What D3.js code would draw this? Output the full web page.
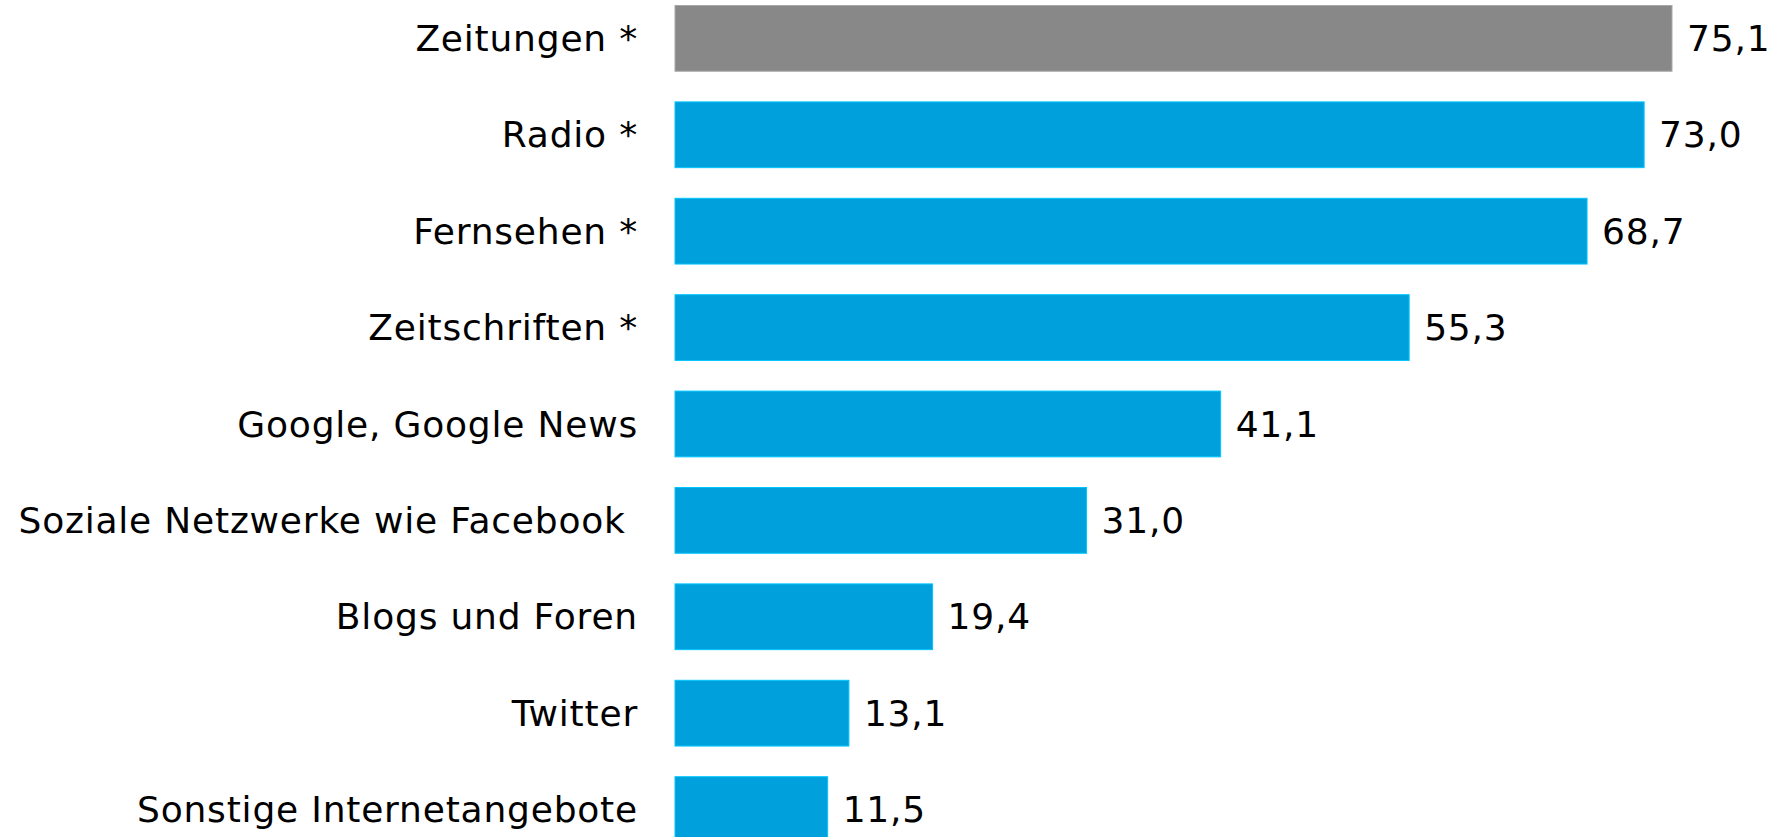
<!DOCTYPE html>
<html>
<head>
<meta charset="utf-8">
<script src="https://cdn.jsdelivr.net/npm/d3@7"></script>
<style>
  body { margin: 0; background: #fff; overflow: hidden; }
  text { font-family: "DejaVu Sans", Verdana, sans-serif; fill: #000; }
</style>
</head>
<body>
<div id="chartDiv"></div>
<script>
// data
var categories = ["Zeitungen *", "Radio *", "Fernsehen *", "Zeitschriften *",
  "Google, Google News", "Soziale Netzwerke wie Facebook ", "Blogs und Foren",
  "Twitter", "Sonstige Internetangebote"];
var values = [75.1, 73.0, 68.7, 55.3, 41.1, 31.0, 19.4, 13.1, 11.5];
var barColors = ["#888888", "#00A0DC", "#00A0DC", "#00A0DC", "#00A0DC",
  "#00A0DC", "#00A0DC", "#00A0DC", "#00A0DC"];

var width = 1778, height = 837;
var left = 675, step = 96.4, pad = 0.318;

var formatValue = function (v) { return d3.format(".1f")(v).replace(".", ","); };

var x = d3.scaleLinear()
  .domain([0, 75.1])
  .range([left, 1672]);

var y = d3.scaleBand()
  .domain(categories)
  .range([5.5, 5.5 + step * (categories.length - pad)])
  .paddingInner(pad)
  .paddingOuter(0);

var svg = d3.select("#chartDiv").append("svg")
  .attr("width", width)
  .attr("height", height);

// bars
svg.append("g").selectAll("rect")
  .data(values)
  .enter().append("rect")
  .attr("x", x(0))
  .attr("y", function (d, i) { return y(categories[i]); })
  .attr("width", function (d) { return x(d) - x(0); })
  .attr("height", y.bandwidth())
  .style("fill", function (d, i) { return barColors[i]; })
  .style("stroke", function (d, i) { return d3.color(barColors[i]).brighter(0.6); })
  .style("stroke-width", 1);

// category labels
svg.append("g").selectAll("text")
  .data(categories)
  .enter().append("text")
  .attr("x", 638)
  .attr("y", function (d) { return y(d) + y.bandwidth() / 2; })
  .attr("dy", "0.35em")
  .attr("text-anchor", "end")
  .style("font-size", "36px")
  .style("letter-spacing", "0.8px")
  .style("white-space", "pre")
  .text(function (d) { return d; });

// value labels
svg.append("g").selectAll("text")
  .data(values)
  .enter().append("text")
  .attr("x", function (d) { return x(d) + 15; })
  .attr("y", function (d, i) { return y(categories[i]) + y.bandwidth() / 2; })
  .attr("dy", "0.35em")
  .style("font-size", "36px")
  .style("letter-spacing", "0.8px")
  .text(formatValue);
</script>
</body>
</html>
